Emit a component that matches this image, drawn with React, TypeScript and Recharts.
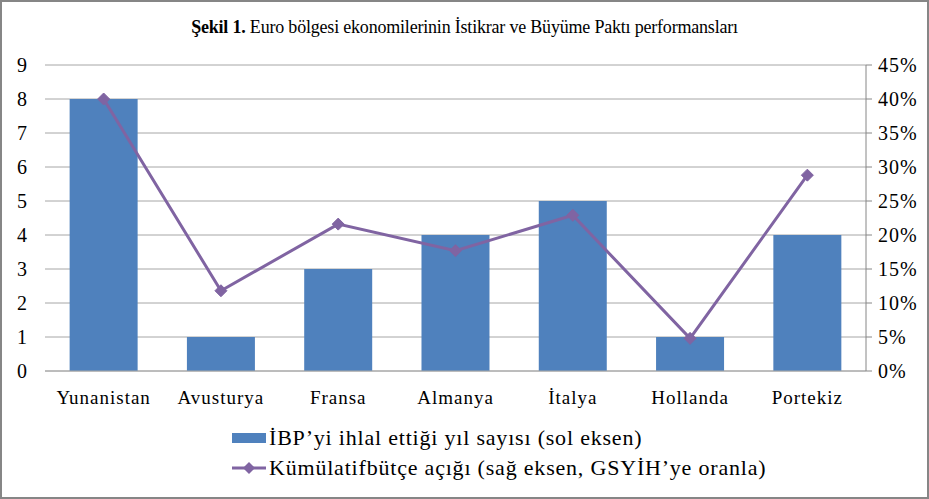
import React from 'react';
import { ComposedChart, Bar, Line, XAxis, YAxis, CartesianGrid } from 'recharts';

const countries = ['Yunanistan', 'Avusturya', 'Fransa', 'Almanya', 'İtalya', 'Hollanda', 'Portekiz'];
const breachYears = [8, 1, 3, 4, 5, 1, 4];
const cumulativeDeficit = [0.4, 0.118, 0.216, 0.177, 0.229, 0.048, 0.288];
const leftTicks = [0, 1, 2, 3, 4, 5, 6, 7, 8, 9];
const rightTicks = [0, 0.05, 0.1, 0.15, 0.2, 0.25, 0.3, 0.35, 0.4, 0.45];

const BAR_COLOR = '#4f81bd';
const LINE_COLOR = '#8064a2';
const FONT = '"Liberation Serif", "DejaVu Serif", serif';

const data = countries.map((name, i) => ({
  name,
  years: breachYears[i],
  deficit: cumulativeDeficit[i],
}));

const Diamond = (props: any) => {
  const { cx, cy } = props;
  if (cx == null || cy == null) return null;
  const r = 6;
  return (
    <path
      d={`M${cx},${cy - r} L${cx + r},${cy} L${cx},${cy + r} L${cx - r},${cy} Z`}
      fill={LINE_COLOR}
      stroke={LINE_COLOR}
    />
  );
};

// legend drawn as a plain overlay so it doesn't eat into the plot height
const ChartLegend = () => (
  <div
    style={{
      position: 'absolute',
      left: 230,
      top: 421,
      fontFamily: FONT,
      fontSize: 22,
      letterSpacing: 0.8,
      color: '#000',
      lineHeight: '30px',
    }}
  >
    <div style={{ display: 'flex', alignItems: 'center' }}>
      <span style={{ display: 'inline-block', width: 34, height: 10, background: BAR_COLOR, marginRight: 3 }} />
      İBP’yi ihlal ettiği yıl sayısı (sol eksen)
    </div>
    <div style={{ display: 'flex', alignItems: 'center' }}>
      <svg width={34} height={14} style={{ marginRight: 3 }}>
        <line x1={0} y1={7} x2={34} y2={7} stroke={LINE_COLOR} strokeWidth={3} />
        <path d="M17,1 L23,7 L17,13 L11,7 Z" fill={LINE_COLOR} />
      </svg>
      Kümülatifbütçe açığı (sağ eksen, GSYİH’ye oranla)
    </div>
  </div>
);

export default function App() {
  return (
    <div
      style={{
        position: 'fixed',
        top: 0,
        left: 0,
        width: 925,
        height: 495,
        border: '2px solid #868686',
        background: '#fff',
        fontFamily: FONT,
      }}
    >
      <div
        style={{
          position: 'absolute',
          top: 15,
          left: 0,
          width: 925,
          textAlign: 'center',
          fontSize: 18,
          color: '#000',
          letterSpacing: -0.2,
        }}
      >
        <b>Şekil 1.</b> Euro bölgesi ekonomilerinin İstikrar ve Büyüme Paktı performansları
      </div>
      <ComposedChart
        width={925}
        height={495}
        data={data}
        margin={{ top: 63, right: 0, left: 0, bottom: 96 }}
        barCategoryGap="21%"
        style={{ fontFamily: FONT }}
      >
        <CartesianGrid vertical={false} stroke="#a6a6a6" yAxisId="left" />
        <XAxis
          dataKey="name"
          height={30}
          tickLine={false}
          axisLine={{ stroke: '#a6a6a6' }}
          tickMargin={14}
          interval={0}
          tick={{ fill: '#000', fontSize: 19, fontFamily: FONT, letterSpacing: 1 }}
        />
        <YAxis
          yAxisId="left"
          orientation="left"
          width={43}
          domain={[0, 9]}
          ticks={leftTicks}
          interval={0}
          tickLine={false}
          axisLine={false}
          tickMargin={12}
          tick={{ fill: '#000', fontSize: 20, fontFamily: FONT }}
        />
        <YAxis
          yAxisId="right"
          orientation="right"
          width={61}
          domain={[0, 0.45]}
          ticks={rightTicks}
          interval={0}
          tickFormatter={(v: number) => `${Math.round(v * 100)}%`}
          tickLine={{ stroke: '#868686' }}
          axisLine={{ stroke: '#868686' }}
          tickMargin={6}
          tick={{ fill: '#000', fontSize: 20, fontFamily: FONT, letterSpacing: 1 }}
        />
        <Bar
          yAxisId="left"
          dataKey="years"
          name="İBP’yi ihlal ettiği yıl sayısı (sol eksen)"
          fill={BAR_COLOR}
          isAnimationActive={false}
        />
        <Line
          yAxisId="right"
          dataKey="deficit"
          name="Kümülatifbütçe açığı (sağ eksen, GSYİH’ye oranla)"
          stroke={LINE_COLOR}
          strokeWidth={3}
          dot={<Diamond />}
          activeDot={false}
          isAnimationActive={false}
        />
      </ComposedChart>
      <ChartLegend />
    </div>
  );
}
